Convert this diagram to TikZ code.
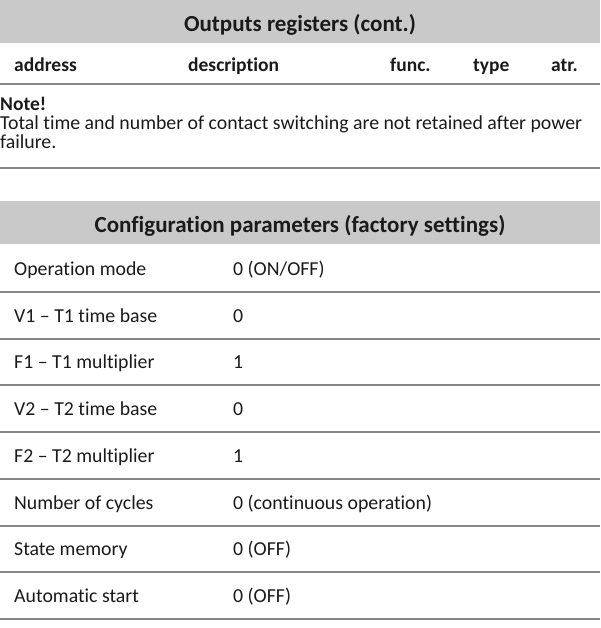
\documentclass[tikz,border=0pt]{standalone}
\usepackage{fontspec}
\setmainfont{Carlito}[RawFeature=-liga]
\definecolor{bandgray}{HTML}{C9C9C9}
\definecolor{rulegray}{HTML}{868686}
\definecolor{txt}{HTML}{1A1A1A}
\begin{document}
\begin{tikzpicture}[x=1pt,y=-1pt,
  body/.style={anchor=base west,inner sep=0pt,text=txt,font=\fontsize{19.8}{22}\selectfont},
  hdr/.style={anchor=base west,inner sep=0pt,text=txt,font=\fontsize{19.5}{22}\selectfont\bfseries},
  title/.style={anchor=base,inner sep=0pt,text=txt,font=\fontsize{23}{26}\selectfont\bfseries},
  rulel/.style={draw=rulegray,line width=2pt}]
\useasboundingbox (0,0) rectangle (600,628);
% band 1
\fill[bandgray] (0,0) rectangle (600,43);
\node[title] (t1) at (300,32) {Outputs registers (cont.)};
\node[hdr] (haddr) at (14,72) {address};
\node[hdr] (hdesc) at (188,72) {description};
\node[hdr] (hfunc) at (390,72) {func.};
\node[hdr] (htype) at (473,72) {type};
\node[hdr] (hatr) at (551,72) {atr.};
\draw[rulel] (0,84) -- (600,84);
\node[hdr] (note) at (0,111) {Note!};
\node[body] (n1) at (0,130) {Total time and number of contact switching are not retained after power};
\node[body] (n2) at (0,149) {failure.};
\draw[rulel] (0,168) -- (600,168);
% band 2
\fill[bandgray] (0,201) rectangle (600,244);
\node[title] (t2) at (300,232) {Configuration parameters (factory settings)};
\foreach \i/\l/\v in {0/Operation mode/{0 (ON/OFF)},
  1/V1 – T1 time base/0,
  2/F1 – T1 multiplier/1,
  3/V2 – T2 time base/0,
  4/F2 – T2 multiplier/1,
  5/Number of cycles/{0 (continuous operation)},
  6/State memory/{0 (OFF)},
  7/Automatic start/{0 (OFF)}}{
  \node[body] (l\i) at (14,275.5+46.7*\i) {\l};
  \node[body] (v\i) at (233,275.5+46.7*\i) {\v};
  \draw[rulel] (0,292+46.7*\i) -- (600,292+46.7*\i);
}
\end{tikzpicture}
\end{document}
